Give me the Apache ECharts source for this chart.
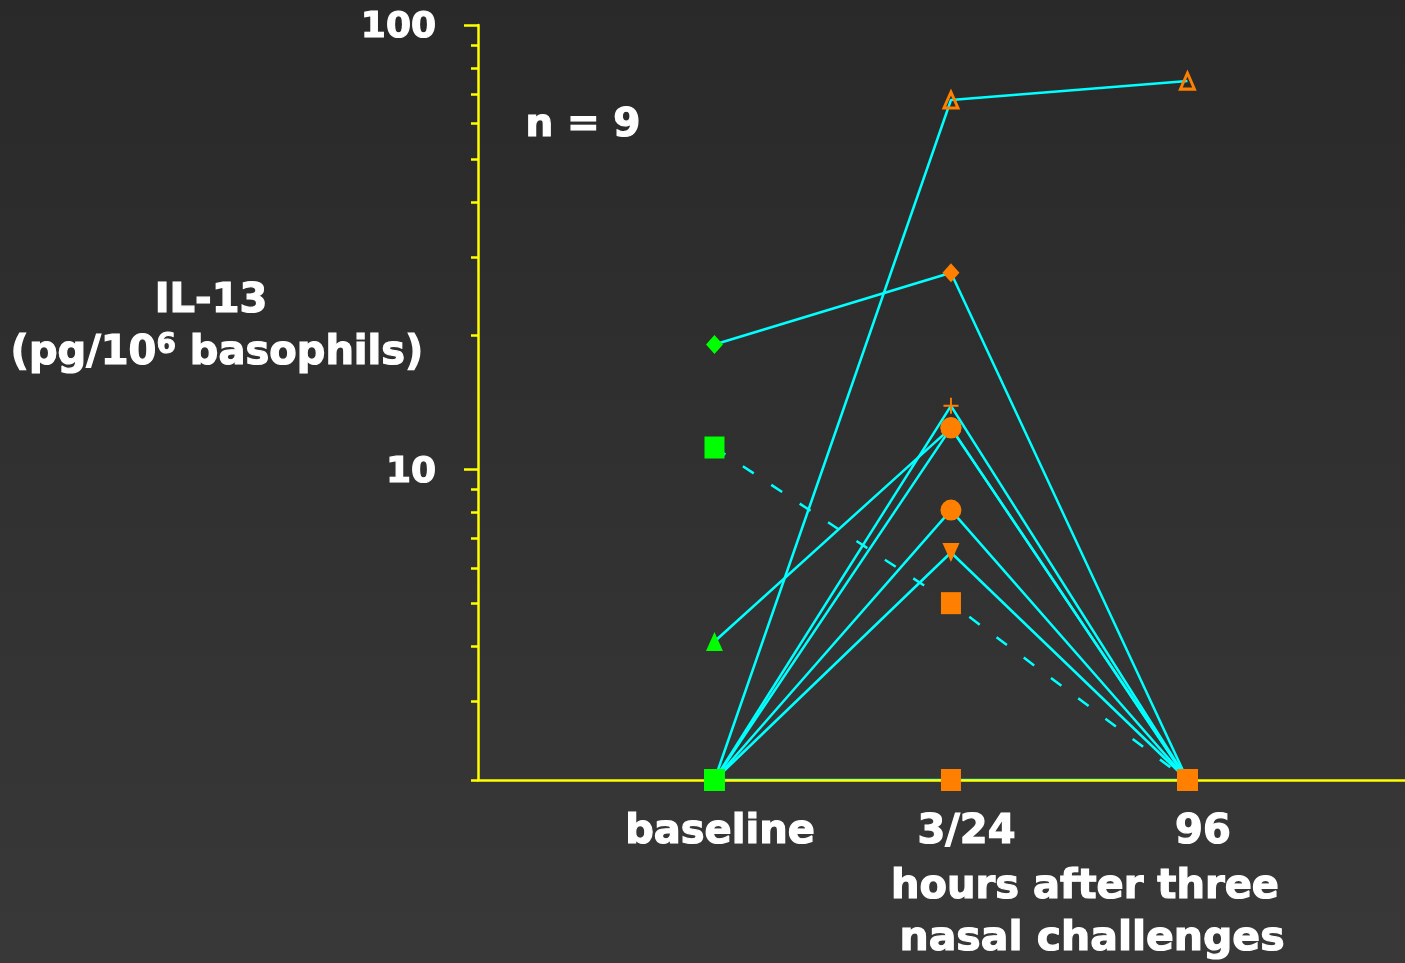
<!DOCTYPE html>
<html>
<head>
<meta charset="utf-8">
<script src="https://cdn.jsdelivr.net/npm/echarts@6/dist/echarts.min.js"></script>
<style>
  html, body { margin: 0; padding: 0; background: #2f2f2f; }
  #chart { width: 1405px; height: 963px; }
</style>
</head>
<body>
<div id="chart"></div>
<script>
// Sampling times (hours after three nasal challenges)
const timePoints = ['baseline', '3/24', '96'];
const timeX = [1, 2, 3];

// IL-13 per patient, pg/10^6 basophils; 2 = lower limit of detection
const detectionLimit = 2;
const patientA = [2, 67.8, 74.8];
const patientB = [19.1, 27.7, 2];
const patientC = [11.2, 5.0, 2];
const patientD = [4.1, 12.4, 2];
const patientE = [2, 13.9, 2];
const patientF = [2, 12.4, 2];
const patientG = [2, 8.1, 2];
const patientH = [2, 6.5, 2];
const patientI = [2, 2, 2];

// Log-axis ticks
const yMajorTicks = [10, 100];
const yMinorTicks = [2, 3, 4, 5, 6, 7, 8, 9, 20, 30, 40, 50, 60, 70, 80, 90];

const CYAN = '#00ffff';
const GREEN = '#00ff00';
const ORANGE = '#ff8000';
const YELLOW = '#ffff00';
const WHITE = '#ffffff';
const FONT = 'DejaVu Sans';

const plusPath = 'path://M7,0h2v7h7v2h-7v7h-2v-7h-7v-2h7z';

// marker shape per patient (used for detectable values)
const patients = [
  { values: patientA, marker: { symbol: 'triangle', symbolSize: [14, 16], open: true } },
  { values: patientB, marker: { symbol: 'diamond', symbolSize: [17, 19] } },
  { values: patientC, marker: { symbol: 'rect', symbolSize: [20, 22] }, dashed: true },
  { values: patientD, marker: { symbol: 'triangle', symbolSize: [17, 19] }, markerAt: [null, { symbol: 'circle', symbolSize: 21 }, null] },
  { values: patientE, marker: { symbol: plusPath, symbolSize: [15, 16] } },
  { values: patientF, marker: { symbol: 'circle', symbolSize: 21 } },
  { values: patientG, marker: { symbol: 'circle', symbolSize: 21 } },
  { values: patientH, marker: { symbol: 'triangle', symbolSize: [17, 19], symbolRotate: 180 } },
  { values: patientI, marker: { symbol: 'rect', symbolSize: [20, 22] } }
];

const floorMarker = { symbol: 'rect', symbolSize: [20, 22] };

const lineSeries = patients.map(p => ({
  type: 'line',
  data: p.values.map((v, i) => [timeX[i], v]),
  symbol: 'none',
  z: 2,
  lineStyle: { color: CYAN, width: 2.5, type: p.dashed ? [13, 21] : 'solid' },
  animation: false
}));

const markerSeries = patients.map(p => ({
  type: 'scatter',
  z: 4,
  animation: false,
  data: p.values.map((v, i) => {
    const m = v <= detectionLimit ? floorMarker : ((p.markerAt && p.markerAt[i]) || p.marker);
    const color = i === 0 ? GREEN : ORANGE;
    return {
      value: [timeX[i], v],
      symbol: m.symbol,
      symbolSize: m.symbolSize,
      symbolRotate: m.symbolRotate || 0,
      itemStyle: m.open
        ? { color: 'rgba(0,0,0,0)', borderColor: color, borderWidth: 3, opacity: 1 }
        : { color: color, opacity: 1 }
    };
  })
}));

// heavy white lettering
const heavyText = (size) => ({
  fill: WHITE, stroke: WHITE, lineWidth: 1.2, font: 'bold ' + size + 'px ' + FONT
});

const chart = echarts.init(document.getElementById('chart'), null, { renderer: 'canvas' });
chart.setOption({
  backgroundColor: {
    type: 'linear', x: 0, y: 0, x2: 0, y2: 1,
    colorStops: [{ offset: 0, color: '#292929' }, { offset: 1, color: '#383838' }]
  },
  animation: false,
  grid: { left: 478, right: 0, top: 25, bottom: 183, containLabel: false, outerBoundsMode: 'none' },
  xAxis: {
    type: 'value', min: 0, max: 3.92,
    z: 3,
    splitLine: { show: false },
    axisTick: { show: false },
    axisLine: { lineStyle: { color: YELLOW, width: 2.5 } },
    axisLabel: {
      customValues: timeX,
      margin: 33,
      formatter: v => {
        const name = timePoints[timeX.indexOf(v)];
        const g = name === 'baseline' ? 'g1' : 'g2';
        return '{' + g + '| }{t|' + name + '}';
      },
      rich: {
        t: { color: WHITE, fontFamily: FONT, fontWeight: 'bold', fontSize: 40, textBorderColor: WHITE, textBorderWidth: 1.2 },
        g1: { width: 11, fontSize: 40 },
        g2: { width: 31, fontSize: 40 }
      }
    }
  },
  yAxis: [
    {
      type: 'log', logBase: 10, min: 2, max: 100,
      position: 'left',
      splitLine: { show: false },
      axisLine: { show: true, lineStyle: { color: YELLOW, width: 2.5 } },
      axisTick: { customValues: yMajorTicks, length: 14, lineStyle: { color: YELLOW, width: 2.5 } },
      axisLabel: {
        customValues: yMajorTicks, margin: 42,
        formatter: v => '{v|' + v + '}',
        rich: {
          v: {
            color: WHITE, fontFamily: FONT, fontWeight: 'bold', fontSize: 36,
            textBorderColor: WHITE, textBorderWidth: 1.2, padding: [6, 0, 0, 0]
          }
        }
      }
    },
    {
      type: 'log', logBase: 10, min: 2, max: 100,
      position: 'left',
      splitLine: { show: false },
      axisLine: { show: false },
      axisTick: { customValues: yMinorTicks, length: 7, lineStyle: { color: YELLOW, width: 2.5 } },
      axisLabel: { show: false }
    }
  ],
  graphic: [
    { type: 'text', left: 525, top: 106, style: Object.assign({ text: 'n = 9' }, heavyText(39)) },
    { type: 'text', x: 211, y: 302, style: Object.assign({ text: 'IL-13', align: 'center', verticalAlign: 'middle' }, heavyText(40)) },
    { type: 'text', x: 217, y: 354, style: Object.assign({
        text: '(pg/10{s|6} basophils)', align: 'center', verticalAlign: 'middle',
        rich: { s: { fontSize: 28, fontWeight: 'bold', fontFamily: FONT, fill: WHITE, stroke: WHITE, lineWidth: 1, verticalAlign: 'top', padding: [0, 0, 17, 0] } }
      }, heavyText(40)) },
    { type: 'text', x: 1085, y: 888, style: Object.assign({ text: 'hours after three', align: 'center', verticalAlign: 'middle' }, heavyText(40)) },
    { type: 'text', x: 1092, y: 939, style: Object.assign({ text: 'nasal challenges', align: 'center', verticalAlign: 'middle' }, heavyText(41)) }
  ],
  series: lineSeries.concat(markerSeries)
});
</script>
</body>
</html>
